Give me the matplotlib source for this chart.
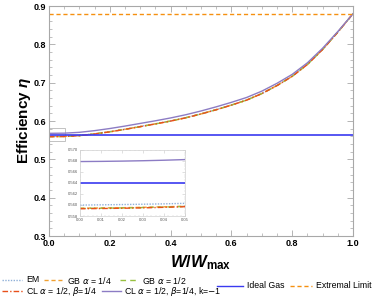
import numpy as np
import matplotlib.pyplot as plt
from matplotlib.lines import Line2D
from matplotlib.patches import Rectangle
from matplotlib.ticker import MultipleLocator

plt.rcParams['font.family'] = ['Liberation Sans', 'DejaVu Sans']
plt.rcParams['mathtext.fontset'] = 'custom'
plt.rcParams['mathtext.it'] = 'Liberation Sans:italic:bold'
plt.rcParams['mathtext.rm'] = 'Liberation Sans:bold'
plt.rcParams['mathtext.bf'] = 'Liberation Sans:bold'

# W/Wmax grid and efficiency curves
w = [0.00, 0.05, 0.10, 0.15, 0.20, 0.25, 0.30, 0.35, 0.40, 0.45, 0.50,
     0.55, 0.60, 0.65, 0.70, 0.75, 0.80, 0.85, 0.90, 0.95, 1.00]
eta_em = [0.5600, 0.5603, 0.5625, 0.5670, 0.5725, 0.5790, 0.5860, 0.5930, 0.6005, 0.6090, 0.6190,
          0.6300, 0.6420, 0.6550, 0.6720, 0.6930, 0.7170, 0.7480, 0.7870, 0.8320, 0.8800]
eta_gb14 = [0.5594, 0.5598, 0.5620, 0.5665, 0.5720, 0.5785, 0.5855, 0.5926, 0.6001, 0.6086, 0.6186,
            0.6296, 0.6417, 0.6547, 0.6717, 0.6927, 0.7168, 0.7478, 0.7868, 0.8319, 0.8800]
eta_gb12 = [0.5593, 0.5597, 0.5619, 0.5664, 0.5719, 0.5784, 0.5854, 0.5925, 0.6000, 0.6085, 0.6185,
            0.6295, 0.6416, 0.6546, 0.6716, 0.6926, 0.7167, 0.7477, 0.7867, 0.8318, 0.8800]
eta_cl = [0.5592, 0.5597, 0.5618, 0.5663, 0.5718, 0.5783, 0.5853, 0.5924, 0.5999, 0.6084, 0.6184,
          0.6294, 0.6415, 0.6545, 0.6715, 0.6925, 0.7166, 0.7476, 0.7866, 0.8318, 0.8800]
eta_clk = [0.5680, 0.5684, 0.5706, 0.5750, 0.5805, 0.5869, 0.5938, 0.6007, 0.6081, 0.6165, 0.6263,
           0.6371, 0.6488, 0.6615, 0.6780, 0.6985, 0.7218, 0.7520, 0.7900, 0.8336, 0.8800]
eta_ideal = 0.564
eta_ext = 0.88

# zoomed region for the inset
w_in = [0.00, 0.01, 0.02, 0.03, 0.04, 0.05]
em_in = [0.55998, 0.56003, 0.56008, 0.56014, 0.56021, 0.56030]
gb14_in = [0.55942, 0.55946, 0.55951, 0.55958, 0.55967, 0.55978]
gb12_in = [0.55938, 0.55942, 0.55947, 0.55954, 0.55963, 0.55973]
cl_in = [0.55932, 0.55936, 0.55941, 0.55948, 0.55958, 0.55969]
clk_in = [0.56790, 0.56793, 0.56798, 0.56805, 0.56814, 0.56826]

c_em = '#8FB0D8'
c_gb14 = '#F0A030'
c_gb12 = '#98C040'
c_cl = '#E8501A'
c_clk = '#8C7CC4'
c_ideal = '#3A3AF0'
c_ext = '#F59010'
frame = '#A8A8A8'

styles = [
    (c_em, (0, (1, 1)), 1.0),
    (c_gb14, (0, (3, 2)), 1.0),
    (c_gb12, (0, (4, 3)), 1.0),
    (c_cl, (0, (4, 1.5, 1, 1.5)), 1.0),
    (c_clk, '-', 1.0),
]

fig = plt.figure(figsize=(3.74, 3.0), dpi=100)
ax = fig.add_axes([0.131, 0.213, 0.813, 0.767])

for ys, (c, ls, lw) in zip([eta_em, eta_gb14, eta_gb12, eta_cl, eta_clk], styles):
    ax.plot(w, ys, color=c, ls=ls, lw=lw)
ax.axhline(eta_ideal, color=c_ideal, lw=1.2)
ax.axhline(eta_ext, color=c_ext, lw=1.0, ls=(0, (3, 2)))

ax.add_patch(Rectangle((-0.007, 0.548), 0.06, 0.033, fill=False, ec='#B8B8B8', lw=0.6))

ax.set_xlim(0, 1)
ax.set_ylim(0.3, 0.9)
ax.xaxis.set_major_locator(MultipleLocator(0.2))
ax.xaxis.set_minor_locator(MultipleLocator(0.05))
ax.yaxis.set_major_locator(MultipleLocator(0.1))
ax.yaxis.set_minor_locator(MultipleLocator(0.02))
ax.tick_params(which='both', direction='in', top=True, right=True, color=frame,
               labelsize=6.5, pad=2)
ax.tick_params(which='major', length=4, width=0.6)
ax.tick_params(which='minor', length=2, width=0.5)
for lab in ax.get_xticklabels() + ax.get_yticklabels():
    lab.set_fontweight('bold')
for s in ax.spines.values():
    s.set_color(frame)
    s.set_linewidth(0.8)

# axis titles, placed by hand in figure pixels
fig.text(201 / 374, 1 - 263 / 300, r'$W/W_{\mathrm{max}}$', fontsize=12,
         ha='center', va='center')
fig.text(24 / 374, 1 - 121 / 300, r'Efficiency $\eta$', fontsize=11, fontweight='bold',
         rotation=90, ha='center', va='center')

# inset
axi = fig.add_axes([0.214, 0.28, 0.281, 0.22])
for ys, (c, ls, lw) in zip([em_in, gb14_in, gb12_in, cl_in, clk_in], styles):
    axi.plot(w_in, ys, color=c, ls=ls, lw=lw)
axi.axhline(eta_ideal, color=c_ideal, lw=1.2)
axi.set_xlim(0, 0.05)
axi.set_ylim(0.558, 0.570)
axi.xaxis.set_major_locator(MultipleLocator(0.01))
axi.xaxis.set_minor_locator(MultipleLocator(0.002))
axi.yaxis.set_major_locator(MultipleLocator(0.002))
axi.yaxis.set_minor_locator(MultipleLocator(0.0005))
axi.xaxis.set_major_formatter(plt.FormatStrFormatter('%.2f'))
axi.yaxis.set_major_formatter(plt.FormatStrFormatter('%.3f'))
axi.tick_params(which='both', direction='in', top=True, right=True, color='#C8C8C8',
                labelsize=3, labelcolor='#555555', pad=1.5)
axi.tick_params(which='major', length=2, width=0.4)
axi.tick_params(which='minor', length=1, width=0.3)
for s in axi.spines.values():
    s.set_color('#D0D0D0')
    s.set_linewidth(0.5)
    s.set_linestyle((0, (1, 1)))

# legend, drawn in figure pixels
def fx(px):
    return px / 374.0

def fy(py):
    return 1 - py / 300.0

legend_items = [
    (2, 22, 26, 280, 'EM', 0),
    (44, 62, 67, 280, r'GB $\alpha$ = 1/4', 1),
    (120, 137, 142, 280, r'GB $\alpha$ = 1/2', 2),
    (2, 24, 26, 291, r'CL $\alpha$ = 1/2, $\beta$=1/4', 3),
    (102, 121, 124, 291, r'CL $\alpha$ = 1/2, $\beta$=1/4, k=$-$1', 4),
]
for x0, x1, xt, py, label, k in legend_items:
    c, ls, lw = styles[k]
    fig.add_artist(Line2D([fx(x0), fx(x1)], [fy(py), fy(py)], color=c, ls=ls, lw=lw))
    fig.text(fx(xt), fy(py), label, va='center', ha='left', fontsize=6.3,
             math_fontfamily='dejavusans')

fig.add_artist(Line2D([fx(217), fx(243)], [fy(286), fy(286)], color=c_ideal, lw=1.0))
fig.text(fx(247), fy(286), 'Ideal Gas', va='center', ha='left', fontsize=6.3)
fig.add_artist(Line2D([fx(290), fx(312)], [fy(286), fy(286)], color=c_ext, lw=1.0, ls=(0, (3, 2))))
fig.text(fx(316), fy(286), 'Extremal Limit', va='center', ha='left', fontsize=6.3)

fig.savefig('out.png', dpi=100)
